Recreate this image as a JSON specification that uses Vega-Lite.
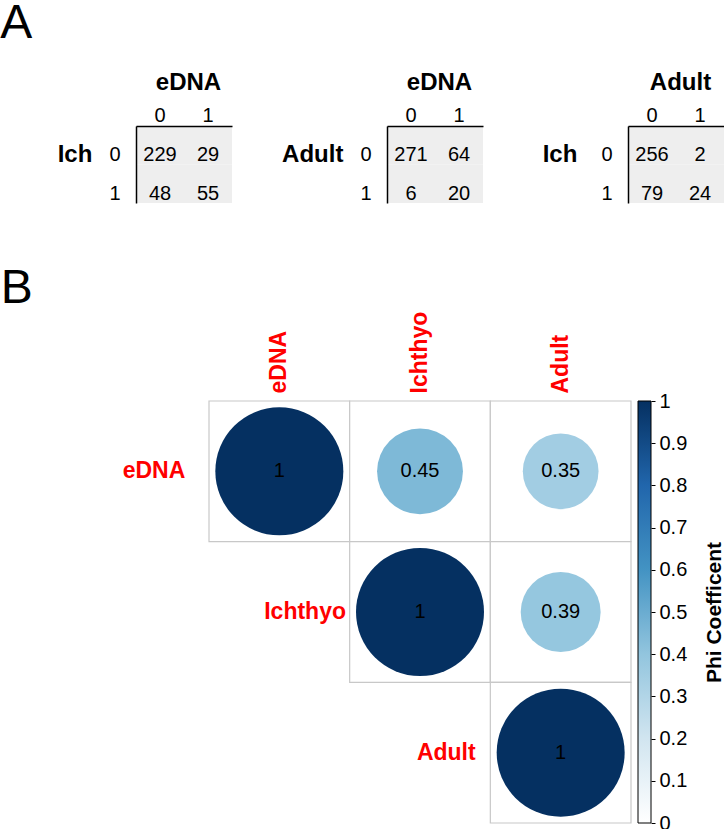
{
  "$schema": "https://vega.github.io/schema/vega-lite/v6.json",
  "padding": 0,
  "config": {
    "font": "Liberation Sans",
    "view": {"stroke": null},
    "title": {"fontSize": 48, "fontWeight": "normal", "anchor": "start", "font": "Liberation Sans", "color": "#000"},
    "axis": {"labelColor": "#000", "titleColor": "#000", "labelFont": "Liberation Sans", "titleFont": "Liberation Sans"}
  },
  "resolve": {"scale": {"color": "independent", "size": "independent"}},
  "spacing": 61,
  "vconcat": [
    {
      "title": {"text": "A", "dx": -57, "offset": 22},
      "spacing": 59,
      "hconcat": [
        {
          "spacing": 49,
          "hconcat": [
            {
              "width": 96, "height": 77,
              "data": {"values": [
                {"row": "0", "col": "0", "n": 229},
                {"row": "0", "col": "1", "n": 29},
                {"row": "1", "col": "0", "n": 48},
                {"row": "1", "col": "1", "n": 55}
              ]},
              "encoding": {
                "x": {"field": "col", "type": "ordinal", "scale": {"type": "band", "paddingInner": 0, "paddingOuter": 0},
                  "axis": {"orient": "top", "title": "eDNA", "labelAngle": 0, "ticks": false, "domainColor": "#000", "domainWidth": 1.5, "labelFontSize": 20, "labelPadding": 1, "titleFontSize": 24, "titleFontWeight": "bold", "titlePadding": 11, "titleX": 52}},
                "y": {"field": "row", "type": "ordinal", "scale": {"type": "band", "paddingInner": 0, "paddingOuter": 0},
                  "axis": {"title": "Ich", "titleAngle": 0, "titleAlign": "right", "titleBaseline": "middle", "titleY": 28, "ticks": false, "domainColor": "#000", "domainWidth": 1.5, "labelFontSize": 20, "labelPadding": 16, "labelOffset": 10, "titleFontSize": 24, "titleFontWeight": "bold", "titlePadding": 17}}
              },
              "layer": [
                {"mark": {"type": "rect", "fill": "#eeeeee"}},
                {"mark": {"type": "text", "fontSize": 20, "dy": 10, "color": "#000"}, "encoding": {"text": {"field": "n", "type": "quantitative"}}}
              ]
            },
            {
              "width": 96, "height": 77,
              "data": {"values": [
                {"row": "0", "col": "0", "n": 271},
                {"row": "0", "col": "1", "n": 64},
                {"row": "1", "col": "0", "n": 6},
                {"row": "1", "col": "1", "n": 20}
              ]},
              "encoding": {
                "x": {"field": "col", "type": "ordinal", "scale": {"type": "band", "paddingInner": 0, "paddingOuter": 0},
                  "axis": {"orient": "top", "title": "eDNA", "labelAngle": 0, "ticks": false, "domainColor": "#000", "domainWidth": 1.5, "labelFontSize": 20, "labelPadding": 1, "titleFontSize": 24, "titleFontWeight": "bold", "titlePadding": 11, "titleX": 52}},
                "y": {"field": "row", "type": "ordinal", "scale": {"type": "band", "paddingInner": 0, "paddingOuter": 0},
                  "axis": {"title": "Adult", "titleAngle": 0, "titleAlign": "right", "titleBaseline": "middle", "titleY": 28, "ticks": false, "domainColor": "#000", "domainWidth": 1.5, "labelFontSize": 20, "labelPadding": 16, "labelOffset": 10, "titleFontSize": 24, "titleFontWeight": "bold", "titlePadding": 17}}
              },
              "layer": [
                {"mark": {"type": "rect", "fill": "#eeeeee"}},
                {"mark": {"type": "text", "fontSize": 20, "dy": 10, "color": "#000"}, "encoding": {"text": {"field": "n", "type": "quantitative"}}}
              ]
            }
          ]
        },
        {
          "width": 96, "height": 77,
          "data": {"values": [
            {"row": "0", "col": "0", "n": 256},
            {"row": "0", "col": "1", "n": 2},
            {"row": "1", "col": "0", "n": 79},
            {"row": "1", "col": "1", "n": 24}
          ]},
          "encoding": {
            "x": {"field": "col", "type": "ordinal", "scale": {"type": "band", "paddingInner": 0, "paddingOuter": 0},
              "axis": {"orient": "top", "title": "Adult", "labelAngle": 0, "ticks": false, "domainColor": "#000", "domainWidth": 1.5, "labelFontSize": 20, "labelPadding": 1, "titleFontSize": 24, "titleFontWeight": "bold", "titlePadding": 11, "titleX": 52}},
            "y": {"field": "row", "type": "ordinal", "scale": {"type": "band", "paddingInner": 0, "paddingOuter": 0},
              "axis": {"title": "Ich", "titleAngle": 0, "titleAlign": "right", "titleBaseline": "middle", "titleY": 28, "ticks": false, "domainColor": "#000", "domainWidth": 1.5, "labelFontSize": 20, "labelPadding": 16, "labelOffset": 10, "titleFontSize": 24, "titleFontWeight": "bold", "titlePadding": 24}}
          },
          "layer": [
            {"mark": {"type": "rect", "fill": "#eeeeee"}},
            {"mark": {"type": "text", "fontSize": 20, "dy": 10, "color": "#000"}, "encoding": {"text": {"field": "n", "type": "quantitative"}}}
          ]
        }
      ]
    },
    {
      "title": {"text": "B", "dx": -122, "offset": -2},
      "spacing": 5,
      "hconcat": [
        {
          "width": 495, "height": 422,
          "data": {"values": [
            {"r": "eDNA", "c": "eDNA", "phi": 1},
            {"r": "eDNA", "c": "Ichthyo", "phi": 0.45},
            {"r": "eDNA", "c": "Adult", "phi": 0.35},
            {"r": "Ichthyo", "c": "Ichthyo", "phi": 1},
            {"r": "Ichthyo", "c": "Adult", "phi": 0.39},
            {"r": "Adult", "c": "Adult", "phi": 1}
          ]},
          "encoding": {
            "x": {"field": "c", "type": "nominal", "scale": {"type": "band", "domain": ["eDNA", "Ichthyo", "Adult"], "range": [73, 495], "paddingInner": 0, "paddingOuter": 0},
              "axis": {"orient": "top", "title": null, "labelAngle": 270, "labelAlign": "left", "labelBaseline": "middle", "labelColor": "#ff0000", "labelFontSize": 23, "labelFontWeight": "bold", "labelPadding": 8, "ticks": false, "domain": false}},
            "y": {"field": "r", "type": "nominal", "scale": {"type": "band", "domain": ["eDNA", "Ichthyo", "Adult"], "paddingInner": 0, "paddingOuter": 0}, "axis": null}
          },
          "layer": [
            {"mark": {"type": "rect", "fill": "#ffffff", "stroke": "#c8c8c8", "strokeWidth": 1.2}},
            {
              "mark": {"type": "circle", "opacity": 1},
              "encoding": {
                "size": {"field": "phi", "type": "quantitative", "scale": {"domain": [0, 1], "range": [0, 16384]}, "legend": null},
                "color": {"field": "phi", "type": "quantitative",
                  "scale": {"domain": [0, 0.2, 0.4, 0.6, 0.8, 1], "range": ["#FFFFFF", "#D1E5F0", "#92C5DE", "#4393C3", "#2166AC", "#053061"], "interpolate": "rgb"},
                  "legend": null}
              }
            },
            {"mark": {"type": "text", "fontSize": 20, "color": "#000"}, "encoding": {"text": {"field": "phi", "type": "quantitative", "format": "~g"}}},
            {"transform": [{"filter": "datum.r == 'eDNA' && datum.c == 'eDNA'"}], "mark": {"type": "text", "align": "right", "dx": -94, "fontSize": 23, "fontWeight": "bold", "color": "#ff0000"}, "encoding": {"text": {"field": "r"}}},
            {"transform": [{"filter": "datum.r == 'Ichthyo' && datum.c == 'Ichthyo'"}], "mark": {"type": "text", "align": "right", "dx": -74, "fontSize": 23, "fontWeight": "bold", "color": "#ff0000"}, "encoding": {"text": {"field": "r"}}},
            {"transform": [{"filter": "datum.r == 'Adult' && datum.c == 'Adult'"}], "mark": {"type": "text", "align": "right", "dx": -85, "fontSize": 23, "fontWeight": "bold", "color": "#ff0000"}, "encoding": {"text": {"field": "r"}}}
          ]
        },
        {
          "width": 13, "height": 422,
          "data": {"values": [{"lo": 0, "hi": 1}]},
          "mark": {
            "type": "rect",
            "stroke": "#000",
            "strokeWidth": 1,
            "fill": {"gradient": "linear", "x1": 0, "y1": 1, "x2": 0, "y2": 0,
              "stops": [
                {"offset": 0, "color": "#FFFFFF"},
                {"offset": 0.2, "color": "#D1E5F0"},
                {"offset": 0.4, "color": "#92C5DE"},
                {"offset": 0.6, "color": "#4393C3"},
                {"offset": 0.8, "color": "#2166AC"},
                {"offset": 1, "color": "#053061"}
              ]}
          },
          "encoding": {
            "y": {"field": "lo", "type": "quantitative", "scale": {"domain": [0, 1], "nice": false, "zero": false},
              "axis": {"orient": "right", "values": [0, 0.1, 0.2, 0.3, 0.4, 0.5, 0.6, 0.7, 0.8, 0.9, 1], "format": "~g", "labelFlush": false, "labelOverlap": false, "grid": false, "domain": false, "ticks": true, "tickSize": 4, "tickColor": "#000", "tickWidth": 1, "labelFontSize": 20, "labelPadding": 4, "title": "Phi Coefficent", "titleAngle": 270, "titleBaseline": "top", "titleFontSize": 21, "titleFontWeight": "bold", "titlePadding": 17}},
            "y2": {"field": "hi"}
          }
        }
      ]
    }
  ]
}
